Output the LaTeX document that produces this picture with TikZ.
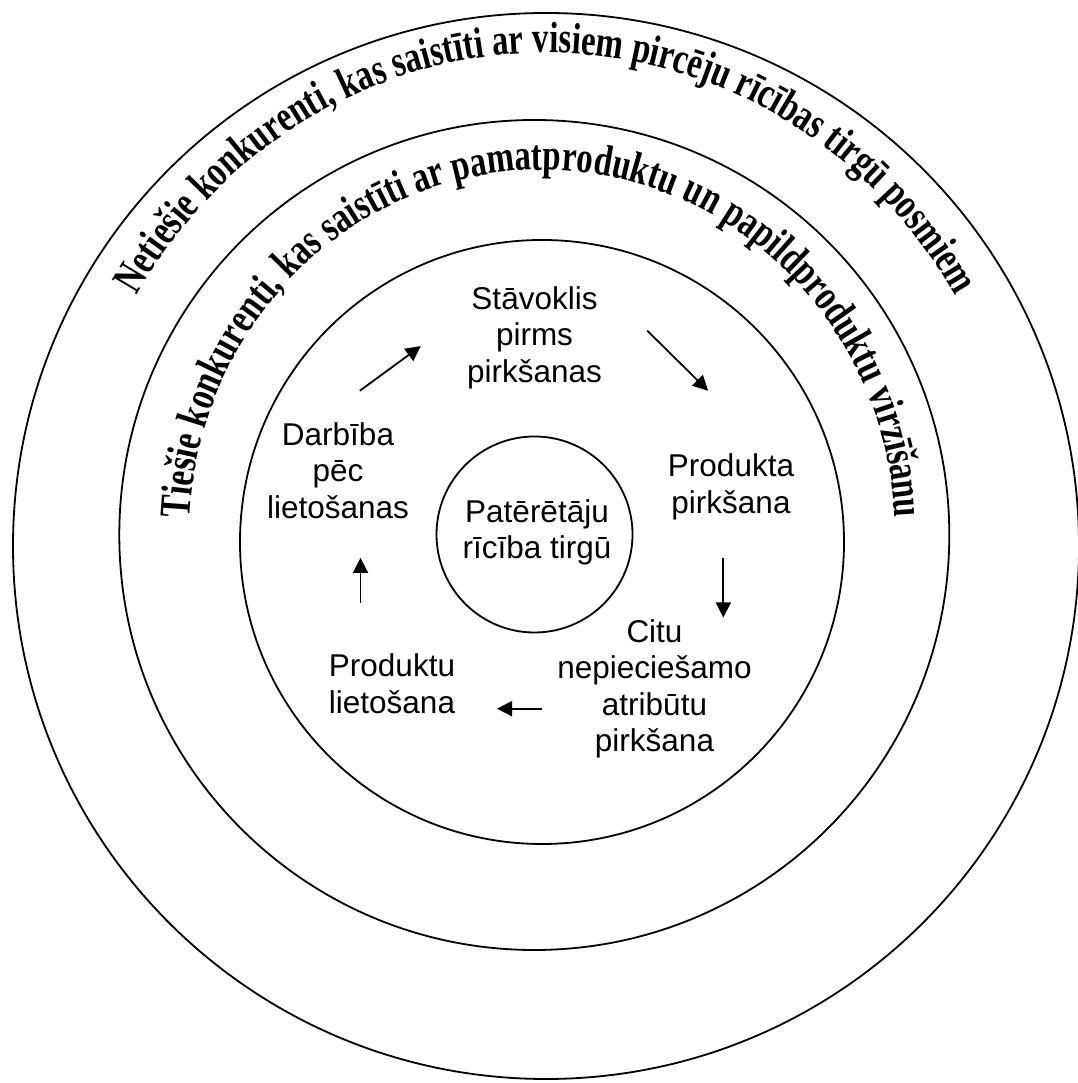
\documentclass[tikz,border=0pt]{standalone}
\usepackage{fontspec}
\usetikzlibrary{arrows.meta,decorations.text}
\newfontfamily\lblfont{Liberation Sans}
\newfontfamily\arcfont{Liberation Serif}[FakeStretch=0.75]
\newcommand\arcstyle{\arcfont\bfseries\fontsize{43.8pt}{50pt}\selectfont}

\begin{document}
\begin{tikzpicture}[x=1pt,y=1pt,
  ring/.style={draw, circle, line width=1.8pt, inner sep=0pt},
  lbl/.style={align=center, inner sep=0pt,
    font=\lblfont\fontsize{31.5pt}{36.5pt}\selectfont},
  flow/.style={line width=1.8pt, -{Triangle[length=15pt,width=15pt]}}
]
\useasboundingbox (0,0) rectangle (1077,1083);
\fill[white] (0,0) rectangle (1077,1083);

% concentric rings
\node[ring, minimum size=1066pt] (outer)  at (546,537)     {};
\node[ring, minimum size=830pt]  (middle) at (534.3,548)   {};
\node[ring, minimum size=604pt]  (inner)  at (542,541)     {};
\node[ring, minimum size=196pt]  (core)   at (534.5,548.5) {};

% curved headings
\path[decorate, decoration={text along path, text align=center,
    text={|\arcstyle|Netiešie konkurenti, kas saistīti ar visiem pircēju rīcības tirgū posmiem}}]
  ([shift={(546,537)}]165:475pt and 493pt)
  arc[start angle=165, end angle=15, x radius=475pt, y radius=493pt];
\path[decorate, decoration={text along path, text align=center,
    text={|\arcstyle|Tiešie konkurenti, kas saistīti ar pamatproduktu un papildproduktu virzīšanu}}]
  ([shift={(542.5,548)}]195:353pt and 365pt)
  arc[start angle=195, end angle=-15, x radius=353pt, y radius=365pt];

% stages of the cycle
\node[lbl] (pre)  at (534.5,744.3) {\strut Stāvoklis\\pirms\\pirkšanas\strut};
\node[lbl] (buy)  at (731,595.3)   {\strut Produkta\\pirkšana\strut};
\node[lbl] (attr) at (654.5,393.3) {\strut Citu\\nepieciešamo\\atribūtu\\pirkšana\strut};
\node[lbl] (use)  at (392,395.4)   {\strut Produktu\\lietošana\strut};
\node[lbl] (post) at (338,608.3)   {\strut Darbība\\pēc\\lietošanas\strut};
\node[lbl] (cons) at (537,549.8)   {\strut Patērētāju\\rīcība tirgū\strut};

% arrows between the stages
\coordinate (a1s) at (359.8,692.2); \coordinate (a1e) at (420.8,736.9);
\coordinate (a2s) at (647.2,752.4); \coordinate (a2e) at (708.1,692.2);
\coordinate (a3s) at (723.3,525);   \coordinate (a3e) at (723.3,465.5);
\coordinate (a4s) at (542,374.3);   \coordinate (a4e) at (497,374.3);
\coordinate (a5s) at (360.5,480);   \coordinate (a5e) at (360.5,525.1);
\draw[flow] (a1s) -- (a1e);
\draw[flow] (a2s) -- (a2e);
\draw[flow] (a3s) -- (a3e);
\draw[flow] (a4s) -- (a4e);
\draw[flow] (a5s) -- (a5e);
\end{tikzpicture}
\end{document}
